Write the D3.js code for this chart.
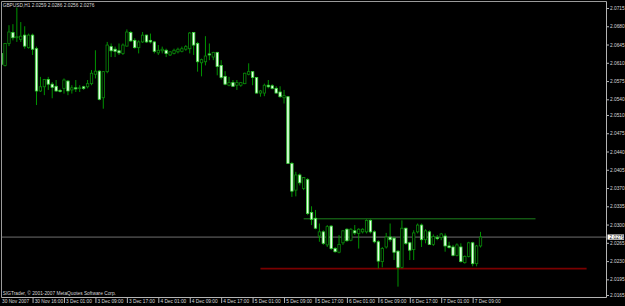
<!DOCTYPE html>
<html>
<head>
<meta charset="utf-8">
<title>GBPUSD,H1</title>
<script src="https://d3js.org/d3.v7.min.js"></script>
<style>
  body { margin:0; background:#000; }
  svg { display:block; background:#000; }
  text { font-family: "Liberation Sans", Arial, sans-serif; font-size:4.8px; fill:#d8d8d8; }
</style>
</head>
<body>
<svg width="625" height="306"></svg>
<script>
// hourly bars, 30 Nov 2007 08:00 .. 7 Dec 2007 11:00
const opens = [2.0628,2.0605,2.0647,2.0668,2.0658,2.0655,2.0663,2.0639,2.0663,2.0637,
  2.0556,2.0564,2.0578,2.0569,2.0565,2.0557,2.0561,2.0575,2.0558,2.0562,
  2.0561,2.0564,2.0564,2.0570,2.0588,2.0594,2.0543,2.0593,2.0641,2.0636,
  2.0633,2.0628,2.0642,2.0668,2.0653,2.0639,2.0650,2.0663,2.0653,2.0650,
  2.0629,2.0633,2.0634,2.0625,2.0628,2.0631,2.0632,2.0636,2.0637,2.0668,
  2.0647,2.0610,2.0612,2.0627,2.0621,2.0630,2.0605,2.0584,2.0567,2.0572,
  2.0567,2.0567,2.0570,2.0588,2.0593,2.0582,2.0552,2.0552,2.0567,2.0566,
  2.0561,2.0554,2.0543,2.0545,2.0417,2.0366,2.0395,2.0369,2.0386,2.0323,
  2.0312,2.0278,2.0286,2.0261,2.0297,2.0254,2.0247,2.0265,2.0291,2.0270,
  2.0288,2.0283,2.0286,2.0286,2.0308,2.0286,2.0267,2.0229,2.0257,2.0276,
  2.0274,2.0249,2.0218,2.0293,2.0265,2.0252,2.0286,2.0299,2.0271,2.0286,
  2.0262,2.0275,2.0275,2.0278,2.0259,2.0257,2.0241,2.0257,2.0227,2.0239,
  2.0265,2.0225,2.0259];
const highs = [2.0630,2.0648,2.0682,2.0684,2.0716,2.0688,2.0680,2.0666,2.0666,2.0641,
  2.0583,2.0579,2.0583,2.0573,2.0577,2.0560,2.0580,2.0577,2.0567,2.0577,
  2.0567,2.0566,2.0577,2.0596,2.0634,2.0596,2.0594,2.0650,2.0647,2.0641,
  2.0647,2.0647,2.0674,2.0671,2.0657,2.0653,2.0669,2.0664,2.0666,2.0652,
  2.0644,2.0641,2.0637,2.0632,2.0637,2.0639,2.0641,2.0644,2.0669,2.0669,
  2.0650,2.0618,2.0661,2.0647,2.0631,2.0631,2.0615,2.0594,2.0583,2.0577,
  2.0577,2.0573,2.0591,2.0609,2.0594,2.0583,2.0558,2.0570,2.0577,2.0569,
  2.0565,2.0565,2.0558,2.0546,2.0420,2.0401,2.0398,2.0391,2.0389,2.0335,
  2.0328,2.0302,2.0289,2.0299,2.0299,2.0257,2.0280,2.0289,2.0293,2.0293,
  2.0299,2.0293,2.0293,2.0310,2.0310,2.0289,2.0270,2.0257,2.0284,2.0302,
  2.0277,2.0251,2.0308,2.0294,2.0267,2.0289,2.0302,2.0302,2.0291,2.0289,
  2.0281,2.0280,2.0284,2.0283,2.0267,2.0261,2.0264,2.0264,2.0241,2.0267,
  2.0267,2.0261,2.0286];
const lows = [2.0602,2.0603,2.0642,2.0653,2.0650,2.0650,2.0637,2.0637,2.0625,2.0529,
  2.0554,2.0548,2.0558,2.0542,2.0554,2.0553,2.0551,2.0548,2.0551,2.0554,
  2.0554,2.0558,2.0561,2.0567,2.0580,2.0538,2.0522,2.0590,2.0621,2.0621,
  2.0625,2.0625,2.0641,2.0650,2.0637,2.0628,2.0648,2.0648,2.0647,2.0628,
  2.0625,2.0628,2.0621,2.0623,2.0626,2.0628,2.0630,2.0633,2.0628,2.0625,
  2.0593,2.0584,2.0605,2.0615,2.0615,2.0586,2.0578,2.0567,2.0565,2.0564,
  2.0558,2.0564,2.0569,2.0586,2.0567,2.0551,2.0545,2.0546,2.0561,2.0559,
  2.0551,2.0543,2.0532,2.0416,2.0353,2.0354,2.0375,2.0366,2.0318,2.0299,
  2.0291,2.0267,2.0261,2.0257,2.0251,2.0246,2.0245,2.0261,2.0267,2.0268,
  2.0280,2.0254,2.0283,2.0283,2.0283,2.0264,2.0216,2.0218,2.0254,2.0267,
  2.0232,2.0181,2.0216,2.0261,2.0232,2.0232,2.0283,2.0257,2.0264,2.0261,
  2.0259,2.0270,2.0270,2.0248,2.0254,2.0239,2.0239,2.0227,2.0225,2.0237,
  2.0220,2.0220,2.0256];
const closes = [2.0607,2.0647,2.0669,2.0658,2.0660,2.0661,2.0642,2.0663,2.0636,2.0556,
  2.0564,2.0578,2.0569,2.0563,2.0556,2.0555,2.0577,2.0556,2.0562,2.0560,
  2.0562,2.0561,2.0570,2.0590,2.0594,2.0540,2.0593,2.0644,2.0633,2.0632,
  2.0629,2.0644,2.0669,2.0652,2.0639,2.0650,2.0663,2.0650,2.0650,2.0632,
  2.0634,2.0636,2.0628,2.0631,2.0634,2.0636,2.0637,2.0641,2.0667,2.0644,
  2.0612,2.0616,2.0623,2.0625,2.0630,2.0603,2.0582,2.0569,2.0572,2.0565,
  2.0572,2.0572,2.0590,2.0593,2.0582,2.0552,2.0556,2.0567,2.0564,2.0561,
  2.0552,2.0545,2.0547,2.0417,2.0364,2.0395,2.0380,2.0390,2.0321,2.0310,
  2.0293,2.0286,2.0264,2.0296,2.0254,2.0248,2.0262,2.0288,2.0269,2.0291,
  2.0284,2.0291,2.0291,2.0308,2.0286,2.0267,2.0230,2.0254,2.0276,2.0271,
  2.0247,2.0218,2.0293,2.0264,2.0251,2.0284,2.0299,2.0271,2.0288,2.0262,
  2.0277,2.0273,2.0282,2.0259,2.0256,2.0241,2.0261,2.0229,2.0239,2.0265,
  2.0225,2.0259,2.0276];

const priceTicks = [2.0715,2.0680,2.0645,2.0610,2.0575,2.0540,2.0510,2.0475,2.0440,
  2.0405,2.0370,2.0335,2.0300,2.0265,2.0230,2.0195,2.0165];
const timeLabels = ["30 Nov 2007","30 Nov 16:00","3 Dec 01:00","3 Dec 09:00","3 Dec 17:00",
  "4 Dec 01:00","4 Dec 09:00","4 Dec 17:00","5 Dec 01:00","5 Dec 09:00","5 Dec 17:00",
  "6 Dec 01:00","6 Dec 09:00","6 Dec 17:00","7 Dec 01:00","7 Dec 09:00"];
const timeTickBars = [1,9,17,25,33,41,49,57,65,73,81,89,97,105,113,121];

// horizontal lines drawn on the chart (price, from bar, to bar)
const levelPrices = [2.0311, 2.02155];
const levelFrom = [78, 67];
const levelTo = [137, 150];

const symbol = "GBPUSD,H1";
const bid = closes[closes.length - 1];

const svg = d3.select("svg");
const plotL = 1.5, plotR = 606.5, plotT = 1.5, plotB = 297.5;

const x = d3.scaleLinear().domain([1, opens.length]).range([1.13, 480.5]);
const y = d3.scaleLinear().domain([2.0165, 2.0715]).range([295, 8]);

svg.append("defs").append("clipPath").attr("id", "plot")
  .append("rect").attr("x", plotL).attr("y", plotT)
  .attr("width", plotR - plotL).attr("height", plotB - plotT);

const plot = svg.append("g").attr("clip-path", "url(#plot)");

const bars = opens.map((o, i) => ({i: i + 1, o: o, h: highs[i], l: lows[i], c: closes[i]}));

// bid line
plot.append("line")
  .attr("x1", plotL).attr("x2", plotR)
  .attr("y1", y(bid)).attr("y2", y(bid))
  .attr("stroke", "#8a8a8a").attr("stroke-width", 0.8);

// drawn levels
plot.append("line")
  .attr("x1", x(levelFrom[0])).attr("x2", x(levelTo[0]))
  .attr("y1", y(levelPrices[0])).attr("y2", y(levelPrices[0]))
  .attr("stroke", "#1f8f1f").attr("stroke-width", 0.9);
plot.append("line")
  .attr("x1", x(levelFrom[1])).attr("x2", x(levelTo[1]))
  .attr("y1", y(levelPrices[1])).attr("y2", y(levelPrices[1]))
  .attr("stroke", "#7a0000").attr("stroke-width", 1.6);

// wicks
plot.selectAll("line.wick").data(bars).enter().append("line")
  .attr("class", "wick")
  .attr("x1", d => x(d.i)).attr("x2", d => x(d.i))
  .attr("y1", d => y(d.h)).attr("y2", d => y(d.l))
  .attr("stroke", "#00a400").attr("stroke-width", 0.9);

// bodies
plot.selectAll("rect.body").data(bars).enter().append("rect")
  .attr("class", "body")
  .attr("x", d => x(d.i) - 1.2)
  .attr("width", 2.4)
  .attr("y", d => y(Math.max(d.o, d.c)))
  .attr("height", d => Math.max(0.6, Math.abs(y(d.o) - y(d.c))))
  .attr("fill", d => d.c >= d.o ? "#000" : "#eaffea")
  .attr("stroke", d => d.c >= d.o ? "#0a8a0a" : "#33d433")
  .attr("stroke-width", 0.8);

// frame
svg.append("line").attr("x1", plotL).attr("x2", plotL).attr("y1", plotT).attr("y2", plotB)
  .attr("stroke", "#9a9a9a");
svg.append("line").attr("x1", plotL).attr("x2", plotR).attr("y1", plotT).attr("y2", plotT)
  .attr("stroke", "#9a9a9a");

// price axis
const yAxis = d3.axisRight(y).tickValues(priceTicks).tickFormat(d3.format(".4f")).tickSize(2.5).tickPadding(1);
const ya = svg.append("g").attr("transform", `translate(${plotR},0)`).call(yAxis);
ya.select(".domain").attr("stroke", "#b4b4b4").attr("d", `M0,${plotT}V${plotB}`);
ya.selectAll(".tick line").attr("stroke", "#b4b4b4");
ya.selectAll(".tick text").attr("fill", "#d8d8d8").attr("font-size", 4.8)
  .attr("font-family", "Liberation Sans, Arial, sans-serif");

// current price marker
svg.append("rect").attr("x", plotR + 1).attr("y", y(bid) - 2.6)
  .attr("width", 16.5).attr("height", 5.2).attr("fill", "#fff");
svg.append("text").attr("x", plotR + 3).attr("y", y(bid)).attr("dy", "0.34em")
  .style("fill", "#000").text(d3.format(".4f")(bid));

// time axis
const xAxis = d3.axisBottom(x).tickValues(timeTickBars).tickFormat((d, k) => timeLabels[k])
  .tickSize(5.5).tickPadding(0);
const xa = svg.append("g").attr("transform", `translate(0,${plotB})`).call(xAxis);
xa.select(".domain").attr("stroke", "#b4b4b4").attr("d", `M${plotL},0H${plotR}`);
xa.selectAll(".tick line").attr("stroke", "#b4b4b4").attr("opacity", (d, k) => k === 0 ? 0 : 1);
xa.selectAll(".tick text")
  .attr("text-anchor", "start").attr("fill", "#d8d8d8")
  .attr("font-size", 4.8).attr("font-family", "Liberation Sans, Arial, sans-serif")
  .attr("y", 1.8).attr("dy", "0.71em")
  .attr("x", (d, k) => k === 0 ? plotL - x(d) : 1.6);

// labels
const last = bars[bars.length - 1];
svg.append("text").attr("x", 2.7).attr("y", 6.9)
  .text(symbol + "  " + [last.o, last.h, last.l, last.c].map(d3.format(".4f")).join(" "));
svg.append("text").attr("x", 2.7).attr("y", 295)
  .text("SIGTrader, \u00a9 2001-2007 MetaQuotes Software Corp.");
</script>
</body>
</html>
